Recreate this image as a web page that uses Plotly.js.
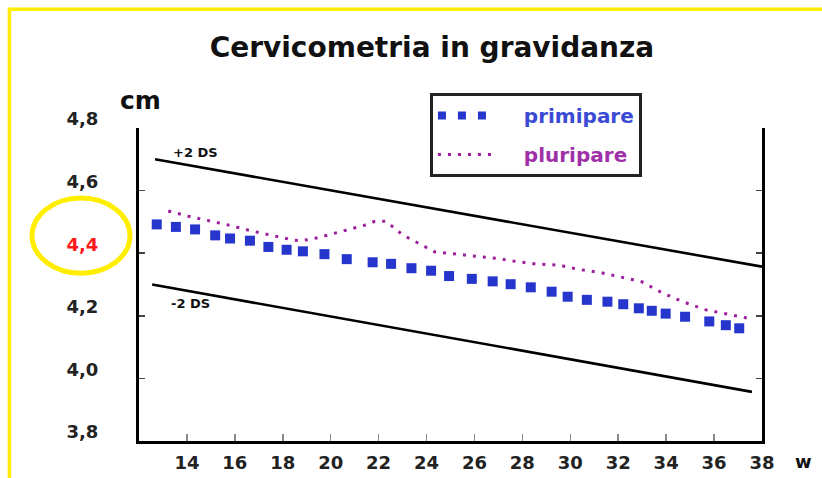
<!DOCTYPE html>
<html>
<head>
<meta charset="utf-8">
<script src="https://cdn.plot.ly/plotly-3.0.1.min.js"></script>
<style>html,body{margin:0;padding:0;background:#fff;}#chart{width:822px;height:478px;}</style>
</head>
<body>
<div id="chart"></div>
<script>
// ---- data ----
const weeksPrimi = [12.74,13.54,14.34,15.18,15.80,16.63,17.40,18.16,18.84,19.74,20.67,21.75,22.52,23.37,24.19,24.94,25.89,26.76,27.51,28.35,29.22,29.89,30.69,31.55,32.21,32.86,33.40,33.98,34.79,35.80,36.49,37.05];
const primipare = [4.492,4.484,4.476,4.457,4.447,4.440,4.420,4.411,4.406,4.397,4.381,4.371,4.366,4.352,4.344,4.327,4.318,4.310,4.301,4.291,4.277,4.261,4.251,4.245,4.237,4.224,4.216,4.207,4.197,4.182,4.170,4.160];
const weeksPluri = [13.22,14.06,14.96,15.80,16.70,17.61,18.44,18.75,19.21,19.69,20.53,21.40,21.85,22.31,23.01,23.84,24.35,25.26,26.16,26.95,27.79,28.62,29.53,30.36,31.21,32.08,32.98,33.82,34.69,35.66,36.80,37.43];
const pluripare = [4.535,4.518,4.503,4.489,4.471,4.457,4.442,4.440,4.445,4.454,4.471,4.489,4.502,4.502,4.458,4.423,4.404,4.397,4.389,4.383,4.373,4.365,4.362,4.348,4.339,4.325,4.309,4.274,4.245,4.219,4.201,4.192];
const upperX = [12.67, 38.0];
const upperY = [4.70, 4.357];
const lowerX = [12.55, 37.58];
const lowerY = [4.30, 3.957];
const xTickVals = [14,16,18,20,22,24,26,28,30,32,34,36,38];
const xTickText = ['14','16','18','20','22','24','26','28','30','32','34','36','38'];
const yTickVals = [3.8,4.0,4.2,4.4,4.6,4.8];
const yTickText = ['3,8','4,0','4,2','<span style="color:#ff1a1a">4,4</span>','4,6','4,8'];
const seriesNames = ['primipare','pluripare'];
const limitLabels = ['+2 DS','-2 DS'];

const FONT = 'DejaVu Sans, Arial, sans-serif';
const BLUE = '#2636cc';
const PURPLE = '#9c1f9c';
const PAD = '\u00a0\u00a0\u00a0';

const traces = [
  {x: upperX, y: upperY, mode:'lines', line:{color:'#000', width:2.6}, showlegend:false, hoverinfo:'skip'},
  {x: lowerX, y: lowerY, mode:'lines', line:{color:'#000', width:2.6}, showlegend:false, hoverinfo:'skip'},
  {x: weeksPrimi, y: primipare, mode:'markers', name:seriesNames[0],
   marker:{symbol:'square', size:10, color:BLUE, line:{width:0}}, showlegend:false},
  // legend entry for primipare (row of squares, as in the original key)
  {x: [null], y: [null], mode:'lines', name:PAD+'<span style="color:#3a4ad4">'+seriesNames[0]+'</span>',
   line:{color:BLUE, width:8, dash:'8px,12px'}, legendgroup:'a', hoverinfo:'skip'},
  {x: weeksPluri, y: pluripare, mode:'lines', name:PAD+'<span style="color:#a030a8">'+seriesNames[1]+'</span>',
   line:{color:PURPLE, width:3, dash:'3px,7px'}, legendgroup:'b'}
];

const layout = {
  width: 822, height: 478,
  margin: {l:139, r:60, t:128, b:37},
  paper_bgcolor:'#fff', plot_bgcolor:'#fff',
  font: {family: FONT, color:'#111'},
  title: {text:'Cervicometria in gravidanza', xref:'container', yref:'container', x:0.5255, y:0.902,
          xanchor:'center', yanchor:'middle', font:{family:FONT, size:28, weight:'bold', color:'#111'}},
  xaxis: {range:[12,38], tickvals:xTickVals, ticktext:xTickText, showgrid:false, zeroline:false,
          showline:true, linecolor:'#000', linewidth:3, mirror:false,
          ticks:'inside', ticklen:7, tickcolor:'#888', tickwidth:1.5,
          ticklabelstandoff:3, tickfont:{family:FONT, size:18, weight:'bold', color:'#222'}},
  yaxis: {range:[3.8,4.8], tickvals:yTickVals, ticktext:yTickText, showgrid:false, zeroline:false,
          showline:true, linecolor:'#000', linewidth:3, mirror:'allticks',
          ticks:'inside', ticklen:6, tickcolor:'#444', tickwidth:1.5,
          ticklabelstandoff:34, ticklabelshift:-9, tickfont:{family:FONT, size:18, weight:'bold', color:'#222'}},
  legend: {x:0.467, y:1.112, xanchor:'left', yanchor:'top', bgcolor:'#fff', bordercolor:'#222', borderwidth:3,
           font:{family:FONT, size:20, weight:'bold'}, itemwidth:60, tracegroupgap:10, traceorder:'grouped'},
  annotations: [
    {text:limitLabels[0], x:14.34, y:4.722, xref:'x', yref:'y', xanchor:'center', yanchor:'middle', showarrow:false, font:{family:FONT, size:13, weight:'bold', color:'#111'}},
    {text:limitLabels[1], x:14.13, y:4.238, xref:'x', yref:'y', xanchor:'center', yanchor:'middle', showarrow:false, font:{family:FONT, size:13, weight:'bold', color:'#111'}},
    {text:'cm', x:0.003, y:1.089, xref:'paper', yref:'paper', xanchor:'center', yanchor:'middle', showarrow:false, font:{family:FONT, size:25, weight:'bold', color:'#111'}},
    {text:'w', x:1.066, y:-0.067, xref:'paper', yref:'paper', xanchor:'center', yanchor:'middle', showarrow:false, font:{family:FONT, size:18, weight:'bold', color:'#111'}}
  ],
  shapes: [
    {type:'circle', xref:'paper', yref:'paper', x0:-0.1717, x1:-0.0145, y0:0.536, y1:0.776, line:{color:'#ffee00', width:5}},
    {type:'line', xref:'paper', yref:'paper', x0:-0.208, x1:-0.208, y0:-0.2, y1:1.385, line:{color:'#ffee00', width:3.5}},
    {type:'line', xref:'paper', yref:'paper', x0:-0.208, x1:1.12, y0:1.379, y1:1.379, line:{color:'#ffee00', width:3.5}}
  ]
};

Plotly.newPlot('chart', traces, layout, {displayModeBar:false, staticPlot:true});
</script>
</body>
</html>
